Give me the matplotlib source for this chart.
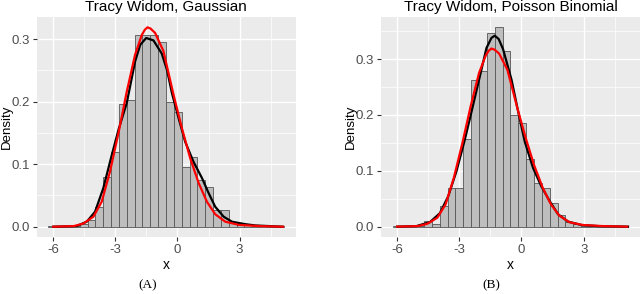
import numpy as np
import matplotlib
matplotlib.use("Agg")
import matplotlib.pyplot as plt
from matplotlib.ticker import MultipleLocator

plt.rcParams['font.family'] = ['Liberation Sans', 'DejaVu Sans']

# histogram bin heights (30 bins each)
gauss_first, gauss_last = -6.24, 5.13
gauss_heights = [0.001, 0.001, 0.001, 0.001, 0.004, 0.011, 0.032, 0.079, 0.120, 0.196,
                 0.202, 0.307, 0.307, 0.307, 0.295, 0.200, 0.184, 0.095, 0.111, 0.075,
                 0.063, 0.026, 0.026, 0.008, 0.005, 0.005, 0.003, 0.001, 0.001, 0.001]

pois_first, pois_last = -6.22, 5.15
pois_heights = [0.001, 0.001, 0.001, 0.001, 0.011, 0.004, 0.037, 0.069, 0.069, 0.157,
                0.263, 0.278, 0.347, 0.357, 0.314, 0.200, 0.185, 0.121, 0.078, 0.069,
                0.043, 0.021, 0.009, 0.004, 0.002, 0.001, 0.001, 0.001, 0.001, 0.001]

# empirical density (black)
gauss_kde_x = [-6.0, -4.87, -4.38, -3.98, -3.58, -3.17, -2.85, -2.45, -2.05, -1.80,
               -1.51, -1.16, -0.76, -0.50, -0.27, 0.05, 0.37, 0.77, 1.18, 1.50,
               1.82, 2.23, 2.63, 3.28, 3.76, 5.08]
gauss_kde_y = [0.000, 0.001, 0.008, 0.024, 0.062, 0.115, 0.155, 0.198, 0.264, 0.291,
               0.302, 0.298, 0.277, 0.250, 0.214, 0.174, 0.136, 0.104, 0.078, 0.054,
               0.032, 0.016, 0.008, 0.004, 0.002, 0.000]

pois_kde_x = [-6.0, -5.07, -4.42, -3.94, -3.54, -3.14, -2.74, -2.41, -2.01, -1.69,
              -1.45, -1.29, -1.10, -0.89, -0.48, -0.16, 0.16, 0.56, 0.96, 1.37,
              1.77, 2.25, 2.89, 3.70, 5.14]
pois_kde_y = [0.000, 0.001, 0.008, 0.024, 0.054, 0.099, 0.155, 0.206, 0.269, 0.320,
              0.338, 0.342, 0.336, 0.318, 0.263, 0.206, 0.152, 0.105, 0.072, 0.045,
              0.022, 0.009, 0.003, 0.001, 0.000]

# Tracy-Widom density (red), same in both panels
tw_x = [-6.0, -5.0, -4.55, -4.06, -3.66, -3.26, -2.85, -2.45, -2.05, -1.72,
        -1.58, -1.45, -1.30, -1.08, -0.68, -0.19, 0.21, 0.61, 1.02, 1.42,
        1.82, 2.31, 2.95, 3.92, 5.1]
tw_y = [0.000, 0.001, 0.005, 0.016, 0.040, 0.088, 0.150, 0.216, 0.275, 0.307,
        0.315, 0.319, 0.317, 0.310, 0.281, 0.211, 0.158, 0.110, 0.070, 0.040,
        0.020, 0.008, 0.003, 0.001, 0.000]

titles = ["Tracy Widom, Gaussian", "Tracy Widom, Poisson Binomial"]
captions = ["(A)", "(B)"]

fig = plt.figure(figsize=(6.4, 2.94), dpi=100)
ax1 = fig.add_axes([36.5/640, 1-236.7/294, 259/640, 220/294])
ax2 = fig.add_axes([380.8/640, 1-236.7/294, 259.2/640, 220/294])

panels = [
    (ax1, gauss_first, gauss_last, gauss_heights, gauss_kde_x, gauss_kde_y, (-0.016, 0.336)),
    (ax2, pois_first, pois_last, pois_heights, pois_kde_x, pois_kde_y, (-0.018, 0.376)),
]

for i, (ax, first, last, hts, kx, ky, ylim) in enumerate(panels):
    edges = np.linspace(first, last, len(hts) + 1)
    ax.set_facecolor('#EBEBEB')
    ax.bar(edges[:-1], hts, width=np.diff(edges), align='edge',
           color='#BEBEBE', edgecolor='#555555', linewidth=0.6, zorder=2)
    ax.plot(kx, ky, color='black', lw=1.6, zorder=3, solid_joinstyle='round')
    ax.plot(tw_x, tw_y, color='red', lw=1.6, zorder=4, solid_joinstyle='round')
    w = last - first
    ax.set_xlim(first - 0.05*w, last + 0.05*w)
    ax.set_ylim(*ylim)
    ax.xaxis.set_minor_locator(MultipleLocator(1.5))
    ax.yaxis.set_minor_locator(MultipleLocator(0.05))
    ax.set_yticks([0, 0.1, 0.2, 0.3])
    ax.set_yticklabels(['0.0', '0.1', '0.2', '0.3'])
    ax.set_xticks([-6, -3, 0, 3])
    ax.set_xticklabels(['-6', '-3', '0', '3'])
    ax.grid(which='major', color='white', lw=1.0, zorder=0)
    ax.grid(which='minor', color='white', lw=0.5, zorder=0)
    ax.set_axisbelow(True)
    for s in ax.spines.values():
        s.set_visible(False)
    ax.tick_params(which='major', length=3, width=0.8, color='#333333',
                   labelcolor='#4D4D4D', labelsize=9.5, pad=2)
    ax.tick_params(which='minor', length=0)
    ax.set_title(titles[i], fontsize=11, pad=4)
    ax.set_xlabel('x', fontsize=10, labelpad=2)
    ax.set_ylabel('Density', fontsize=9.5)
    ax.yaxis.set_label_coords(-0.093, 0.5)

fig.text(147.7/640, 1-285.7/294, captions[0], family='Liberation Serif',
         fontsize=9.5, ha='center', va='center')
fig.text(491.7/640, 1-285.7/294, captions[1], family='Liberation Serif',
         fontsize=9.5, ha='center', va='center')

fig.savefig('out.png', dpi=100)
